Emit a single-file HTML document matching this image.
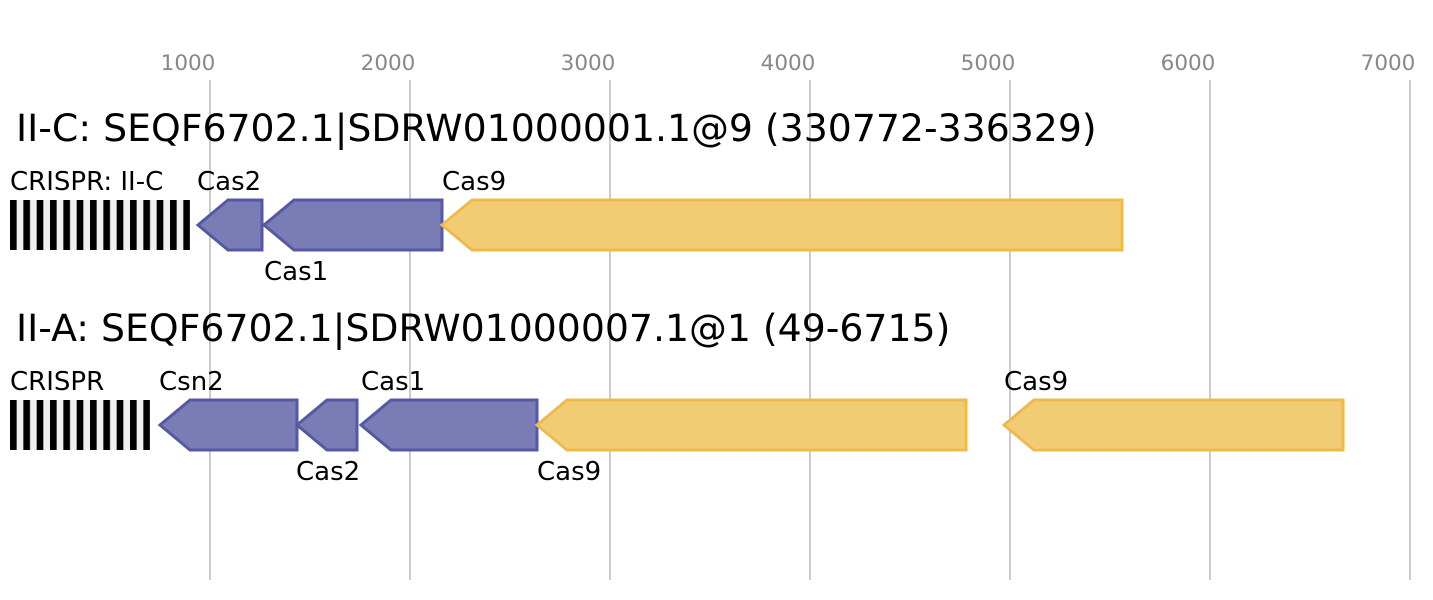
<!DOCTYPE html>
<html><head><meta charset="utf-8"><style>
body{margin:0;background:#fff}
svg{display:block;font-family:"DejaVu Sans","Liberation Sans",sans-serif}
</style></head><body>
<svg width="1433" height="600" xmlns="http://www.w3.org/2000/svg">
<defs>
<pattern id="cr" x="10" y="0" width="13.333" height="50" patternUnits="userSpaceOnUse">
<rect width="13.333" height="50" fill="#f0f0f0"/><rect width="6.667" height="50" fill="#000"/>
</pattern>
</defs>
<g stroke="#bbb" stroke-width="1.5">
<line x1="210" y1="80" x2="210" y2="580"/><line x1="410" y1="80" x2="410" y2="580"/>
<line x1="610" y1="80" x2="610" y2="580"/><line x1="810" y1="80" x2="810" y2="580"/>
<line x1="1010" y1="80" x2="1010" y2="580"/><line x1="1210" y1="80" x2="1210" y2="580"/>
<line x1="1410" y1="80" x2="1410" y2="580"/>
</g>
<g fill="#888" font-size="21.5" text-anchor="middle">
<text x="188" y="70">1000</text><text x="388" y="70">2000</text><text x="588" y="70">3000</text>
<text x="788" y="70">4000</text><text x="988" y="70">5000</text><text x="1188" y="70">6000</text><text x="1388" y="70">7000</text>
</g>
<text x="16" y="141" font-size="37.8">II-C: SEQF6702.1|SDRW01000001.1@9 (330772-336329)</text>
<text x="16" y="341" font-size="37.8">II-A: SEQF6702.1|SDRW01000007.1@1 (49-6715)</text>
<rect x="10" y="200" width="180" height="50" fill="url(#cr)"/>
<rect x="10" y="400" width="140" height="50" fill="url(#cr)"/>
<g fill="#7a7db5" stroke="#5558a5" stroke-width="3">
<polygon points="198,225 228,200 262,200 262,250 228,250"/>
<polygon points="264,225 294,200 442,200 442,250 294,250"/>
<polygon points="160,425 190,400 297,400 297,450 190,450"/>
<polygon points="297,425 327,400 357,400 357,450 327,450"/>
<polygon points="361,425 391,400 537,400 537,450 391,450"/>
</g>
<g fill="#f2cc75" stroke="#efbb48" stroke-width="3">
<polygon points="442,225 472,200 1122,200 1122,250 472,250"/>
<polygon points="537,425 567,400 966,400 966,450 567,450"/>
<polygon points="1004,425 1034,400 1343,400 1343,450 1034,450"/>
</g>
<g font-size="26" fill="#000">
<text x="10" y="190">CRISPR: II-C</text><text x="197" y="190">Cas2</text><text x="442" y="190">Cas9</text>
<text x="264" y="280">Cas1</text>
<text x="10" y="390">CRISPR</text><text x="159" y="390">Csn2</text><text x="361" y="390">Cas1</text>
<text x="1004" y="390">Cas9</text>
<text x="296" y="480">Cas2</text><text x="537" y="480">Cas9</text>
</g>
</svg>
</body></html>
